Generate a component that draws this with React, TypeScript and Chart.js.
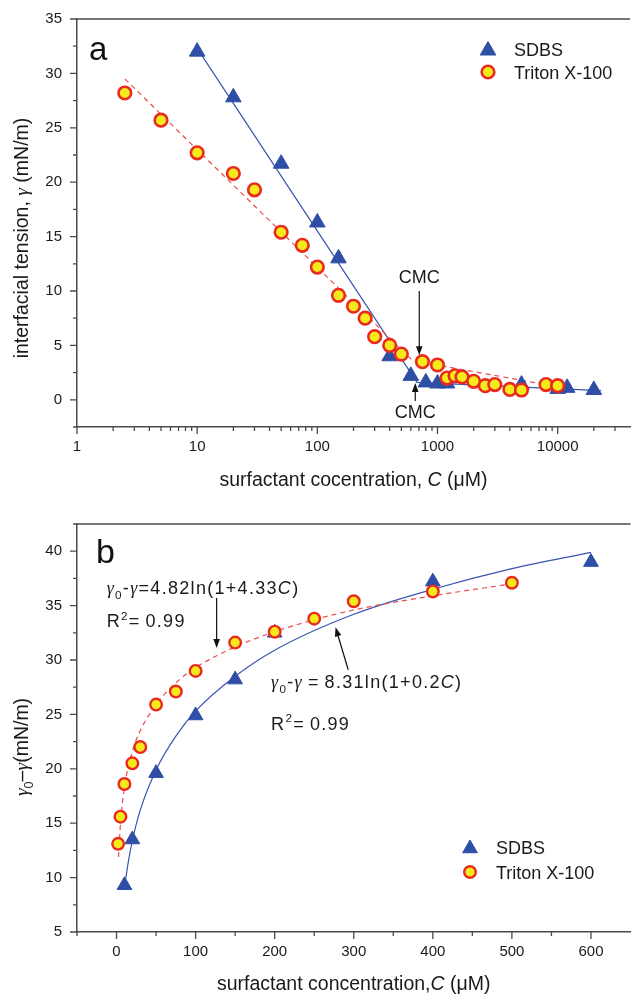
import { useEffect, useRef } from 'react';
import { Chart, registerables } from 'chart.js';
Chart.register(...registerables);

// ---------- Panel a: interfacial tension vs concentration (log x) ----------
const sdbsA_C = [10, 20, 50, 100, 150, 400, 600, 800, 1000, 1200, 5000, 10000, 12000, 20000];
const sdbsA_gamma = [32.0, 27.8, 21.7, 16.3, 13.0, 4.0, 2.2, 1.6, 1.5, 1.5, 1.4, 1.0, 1.1, 0.9];
const tritonA_C = [2.5, 5, 10, 20, 30, 50, 75, 100, 150, 200, 250, 300, 400, 500, 750, 1000, 1200, 1400, 1600, 2000, 2500, 3000, 4000, 5000, 8000, 10000];
const tritonA_gamma = [28.2, 25.7, 22.7, 20.8, 19.3, 15.4, 14.2, 12.2, 9.6, 8.6, 7.5, 5.8, 5.0, 4.2, 3.5, 3.2, 2.0, 2.2, 2.1, 1.7, 1.3, 1.4, 0.95, 0.9, 1.4, 1.3];
const sdbsA_fitC = [10, 675, 23000];
const sdbsA_fitGamma = [32.3, 1.6, 0.85];
const tritonA_fitC = [2.5, 620, 10000];
const tritonA_fitGamma = [29.5, 3.6, 1.2];
const xDecadesA = [1, 10, 100, 1000, 10000];
const xMultipliers = [1, 2, 3, 4, 5, 6, 7, 8, 9];
const xMaxA = 40000;

// ---------- Panel b: gamma0 - gamma vs concentration (linear) ----------
const sdbsB_C = [10, 20, 50, 100, 150, 200, 400, 600];
const sdbsB_dg = [9.3, 13.5, 19.6, 24.9, 28.2, 32.5, 37.2, 39.0];
const tritonB_C = [2, 5, 10, 20, 30, 50, 75, 100, 150, 200, 250, 300, 400, 500];
const tritonB_dg = [13.1, 15.6, 18.6, 20.5, 22.0, 25.9, 27.1, 29.0, 31.6, 32.6, 33.8, 35.4, 36.3, 37.1];
const sdbsB_fitC = [10, 15, 20, 30, 50, 75, 100, 150, 200, 300, 400, 500, 600];
const sdbsB_fitDg = [9.1, 11.5, 13.4, 16.2, 19.9, 23.0, 25.3, 28.5, 30.9, 34.2, 36.5, 38.4, 39.9];
const tritonB_fitC = [2.5, 5, 10, 20, 30, 50, 75, 100, 150, 200, 250, 300, 400, 500];
const tritonB_fitDg = [11.9, 15.0, 18.3, 21.6, 23.5, 25.9, 27.9, 29.3, 31.2, 32.6, 33.7, 34.6, 35.9, 37.0];

const SANS = '"Liberation Sans", Arial, sans-serif';
const SERIF = '"Liberation Serif", "Times New Roman", serif';
const AXIS = '#4a4a4a';
const TXT = '#1a1a1a';
const BLUE = '#2f4ea6';
const BLUE_LINE = '#3b55b0';
const YELLOW = '#f6e91c';
const RED = '#ea2a1f';
const RED_LINE = '#ec4b4b';

type Seg = { t: string; it?: boolean; serif?: boolean; sub?: boolean; sup?: boolean };

function segFont(s: Seg, size: number) {
  const sz = s.sub || s.sup ? size * 0.65 : size;
  return `${s.it ? 'italic ' : ''}${sz}px ${s.serif ? SERIF : SANS}`;
}

function drawRich(ctx: CanvasRenderingContext2D, segs: Seg[], x: number, y: number, size: number,
  align: 'left' | 'center', rotate = false, spacing = 0) {
  ctx.save();
  ctx.translate(x, y);
  if (rotate) ctx.rotate(-Math.PI / 2);
  ctx.textBaseline = 'alphabetic';
  ctx.textAlign = 'left';
  ctx.fillStyle = TXT;
  (ctx as any).letterSpacing = spacing + 'px';
  const widths = segs.map((s) => { ctx.font = segFont(s, size); return ctx.measureText(s.t).width; });
  const total = widths.reduce((a, b) => a + b, 0);
  let cx = align === 'center' ? -total / 2 : 0;
  segs.forEach((s, i) => {
    ctx.font = segFont(s, size);
    const dy = s.sub ? size * 0.28 : s.sup ? -size * 0.42 : 0;
    ctx.fillText(s.t, cx, dy);
    cx += widths[i];
  });
  ctx.restore();
}

function drawArrow(ctx: CanvasRenderingContext2D, x1: number, y1: number, x2: number, y2: number) {
  const a = Math.atan2(y2 - y1, x2 - x1);
  const L = 9, W = 3.3;
  const c = Math.cos(a), s = Math.sin(a);
  ctx.save();
  ctx.strokeStyle = '#111';
  ctx.fillStyle = '#111';
  ctx.lineWidth = 1.2;
  ctx.beginPath();
  ctx.moveTo(x1, y1);
  ctx.lineTo(x2 - L * 0.8 * c, y2 - L * 0.8 * s);
  ctx.stroke();
  ctx.beginPath();
  ctx.moveTo(x2, y2);
  ctx.lineTo(x2 - L * c + W * s, y2 - L * s - W * c);
  ctx.lineTo(x2 - L * c - W * s, y2 - L * s + W * c);
  ctx.closePath();
  ctx.fill();
  ctx.restore();
}

function drawMarker(ctx: CanvasRenderingContext2D, style: string, x: number, y: number, r: number,
  fill: string, stroke: string, bw: number) {
  ctx.save();
  ctx.beginPath();
  if (style === 'triangle') {
    for (let k = 0; k < 3; k++) {
      const ang = (k * 2 * Math.PI) / 3;
      const px = x + Math.sin(ang) * r, py = y - Math.cos(ang) * r;
      if (k === 0) ctx.moveTo(px, py); else ctx.lineTo(px, py);
    }
    ctx.closePath();
  } else {
    ctx.arc(x, y, r, 0, Math.PI * 2);
  }
  ctx.fillStyle = fill;
  ctx.fill();
  ctx.strokeStyle = stroke;
  ctx.lineWidth = bw;
  ctx.stroke();
  ctx.restore();
}

function drawAxisTicks(chart: any, isMajorX: (v: number) => boolean, isMajorY: (v: number) => boolean) {
  const { ctx, chartArea: ca, scales } = chart;
  ctx.save();
  ctx.strokeStyle = AXIS;
  ctx.lineWidth = 1.3;
  ctx.beginPath();
  scales.x.ticks.forEach((t: any) => {
    const p = scales.x.getPixelForValue(t.value);
    if (p < ca.left - 0.5 || p > ca.right - 1) return;
    const len = isMajorX(t.value) ? 7 : 4;
    ctx.moveTo(p, ca.bottom);
    ctx.lineTo(p, ca.bottom + len);
  });
  scales.y.ticks.forEach((t: any) => {
    const p = scales.y.getPixelForValue(t.value);
    const len = isMajorY(t.value) ? 7 : 4;
    ctx.moveTo(ca.left, p);
    ctx.lineTo(ca.left - len, p);
  });
  ctx.stroke();
  ctx.lineWidth = 1.5;
  ctx.beginPath();
  ctx.moveTo(ca.left, ca.top);
  ctx.lineTo(ca.right, ca.top);
  ctx.stroke();
  ctx.restore();
}

function drawLegend(ctx: CanvasRenderingContext2D, x: number, yTri: number, yCirc: number, textX: number, triR: number, circR: number, circBw: number) {
  drawMarker(ctx, 'triangle', x, yTri + 1.5, triR, BLUE, BLUE, 1);
  drawMarker(ctx, 'circle', x, yCirc, circR, YELLOW, RED, circBw);
  ctx.save();
  ctx.fillStyle = TXT;
  ctx.font = `18px ${SANS}`;
  ctx.textBaseline = 'alphabetic';
  ctx.textAlign = 'left';
  ctx.fillText('SDBS', textX, yTri + 6.5);
  ctx.fillText('Triton X-100', textX, yCirc + 6.5);
  ctx.restore();
}

const isMult = (v: number, m: number) => Math.abs(v / m - Math.round(v / m)) < 1e-6;

const xTicksA = xDecadesA.flatMap((d) => xMultipliers.map((m) => m * d)).filter((v) => v <= xMaxA);
const isMajorXA = (v: number) => xDecadesA.includes(v);
const isMajorYA = (v: number) => isMult(v, 5);
const isMajorXB = (v: number) => v >= 0 && isMult(v, 100);
const isMajorYB = (v: number) => isMult(v, 5);

const pts = (xs: number[], ys: number[]) => xs.map((x, i) => ({ x, y: ys[i] }));

const tickFont = { family: SANS, size: 15 };

const decorA = {
  id: 'decorA',
  afterDraw(chart: any) {
    const { ctx, chartArea: ca, scales } = chart;
    const X = (v: number) => scales.x.getPixelForValue(v);
    const Y = (v: number) => scales.y.getPixelForValue(v);
    drawAxisTicks(chart, isMajorXA, isMajorYA);
    ctx.save();
    ctx.fillStyle = '#111';
    ctx.font = `33px ${SANS}`;
    ctx.fillText('a', ca.left + 12, ca.top + 41);
    ctx.restore();
    drawRich(ctx, [{ t: 'surfactant cocentration, ' }, { t: 'C', it: true }, { t: ' (μM)' }], (ca.left + ca.right) / 2, 486, 19.5, 'center');
    drawRich(ctx, [{ t: 'interfacial tension, ' }, { t: 'γ', it: true, serif: true }, { t: ' (mN/m)' }], 28, 238, 19.5, 'center', true);
    ctx.save();
    ctx.fillStyle = TXT;
    ctx.font = `18px ${SANS}`;
    ctx.textAlign = 'center';
    ctx.fillText('CMC', X(705), Y(10.7));
    ctx.fillText('CMC', X(653), Y(-1.65));
    ctx.restore();
    drawArrow(ctx, X(705), Y(10.0), X(705), Y(4.1));
    drawArrow(ctx, X(653), Y(-0.1), X(653), Y(1.55));
    drawLegend(ctx, 488, 49, 72, 514, 9, 6.3, 2.6);
  },
};

const decorB = {
  id: 'decorB',
  afterDraw(chart: any) {
    const { ctx, chartArea: ca, scales } = chart;
    const X = (v: number) => scales.x.getPixelForValue(v);
    const Y = (v: number) => scales.y.getPixelForValue(v);
    drawAxisTicks(chart, isMajorXB, isMajorYB);
    ctx.save();
    ctx.fillStyle = '#111';
    ctx.font = `34px ${SANS}`;
    ctx.fillText('b', ca.left + 19, ca.top + 39);
    ctx.restore();
    drawRich(ctx, [{ t: 'surfactant concentration,' }, { t: 'C', it: true }, { t: ' (μM)' }], (ca.left + ca.right) / 2, 493, 19.5, 'center');
    drawRich(ctx, [{ t: 'γ', it: true, serif: true }, { t: '0', sub: true }, { t: '–' }, { t: 'γ', it: true, serif: true }, { t: '(mN/m)' }], 28, 250, 19.5, 'center', true);
    const f1: Seg[] = [{ t: 'γ', it: true, serif: true }, { t: '0', sub: true }, { t: '-' }, { t: 'γ', it: true, serif: true }, { t: '=4.82ln(1+4.33' }, { t: 'C', it: true }, { t: ')' }];
    const f2: Seg[] = [{ t: 'γ', it: true, serif: true }, { t: '0', sub: true }, { t: '-' }, { t: 'γ', it: true, serif: true }, { t: '\u2009=\u20098.31ln(1+0.2' }, { t: 'C', it: true }, { t: ')' }];
    const r2: Seg[] = [{ t: 'R' }, { t: '2', sup: true }, { t: '=\u20090.99' }];
    drawRich(ctx, f1, X(-12.5), Y(36.1), 18, 'left', false, 1.3);
    drawRich(ctx, r2, X(-12.5), Y(33.0), 18, 'left', false, 1.3);
    drawRich(ctx, f2, X(195.5), Y(27.4), 18, 'left', false, 1.3);
    drawRich(ctx, r2, X(195.5), Y(23.6), 18, 'left', false, 1.3);
    drawArrow(ctx, X(126.6), Y(35.7), X(126.6), Y(31.1));
    drawArrow(ctx, X(293), Y(29.1), X(277), Y(33.0));
    drawLegend(ctx, 470, 350, 375, 496, 8.5, 5.8, 2.4);
  },
};

// Tick marks are drawn by the plugin; Chart.js' own are transparent and only reserve label spacing.
function baseScale(extra: any, gap: number) {
  return {
    grid: { display: true, drawOnChartArea: false, drawTicks: true, tickLength: gap, tickColor: 'rgba(0,0,0,0)' },
    border: { display: true, color: AXIS, width: 1.5 },
    title: { display: false },
    ...extra,
  };
}

function configA(): any {
  return {
    type: 'scatter',
    data: {
      datasets: [
        { label: 'Triton X-100', data: pts(tritonA_C, tritonA_gamma), pointStyle: 'circle', pointRadius: 6.3, borderWidth: 2.6, backgroundColor: YELLOW, borderColor: RED, order: 0 },
        { label: 'SDBS', data: pts(sdbsA_C, sdbsA_gamma), pointStyle: 'triangle', pointRadius: 9, borderWidth: 1, backgroundColor: BLUE, borderColor: BLUE, order: 1 },
        { label: 'Triton fit', data: pts(tritonA_fitC, tritonA_fitGamma), showLine: true, pointRadius: 0, borderColor: RED_LINE, borderWidth: 1.2, borderDash: [5, 4], order: 2 },
        { label: 'SDBS fit', data: pts(sdbsA_fitC, sdbsA_fitGamma), showLine: true, pointRadius: 0, borderColor: BLUE_LINE, borderWidth: 1.2, order: 3 },
      ],
    },
    options: {
      animation: false,
      responsive: false,
      maintainAspectRatio: false,
      layout: { padding: { left: 0, top: 19, right: 4, bottom: 0 } },
      plugins: { legend: { display: false }, tooltip: { enabled: false } },
      scales: {
        x: baseScale({
          type: 'logarithmic', min: 1, max: xMaxA, position: 'bottom',
          ticks: { autoSkip: false, maxRotation: 0, minRotation: 0, padding: 0, font: tickFont, color: TXT,
            callback: (v: any) => (isMajorXA(Number(v)) ? String(v) : '') },
          afterBuildTicks: (s: any) => { s.ticks = xTicksA.map((v) => ({ value: v })); },
          afterFit: (s: any) => { s.height = 70; },
        }, 11),
        y: baseScale({
          type: 'linear', min: -2.5, max: 35, position: 'left',
          ticks: { stepSize: 2.5, autoSkip: false, padding: 0, font: tickFont, color: TXT,
            callback: (v: any) => (isMajorYA(Number(v)) ? String(Math.round(Number(v))) : '') },
          afterFit: (s: any) => { s.width = 77; },
        }, 15),
      },
    },
    plugins: [decorA],
  };
}

function configB(): any {
  return {
    type: 'scatter',
    data: {
      datasets: [
        { label: 'Triton X-100', data: pts(tritonB_C, tritonB_dg), pointStyle: 'circle', pointRadius: 5.8, borderWidth: 2.4, backgroundColor: YELLOW, borderColor: RED, order: 0 },
        { label: 'SDBS', data: pts(sdbsB_C, sdbsB_dg), pointStyle: 'triangle', pointRadius: 8.5, borderWidth: 1, backgroundColor: BLUE, borderColor: BLUE, order: 1 },
        { label: 'Triton fit', data: pts(tritonB_fitC, tritonB_fitDg), showLine: true, pointRadius: 0, borderColor: RED_LINE, borderWidth: 1.2, borderDash: [5, 4], cubicInterpolationMode: 'monotone', order: 2 },
        { label: 'SDBS fit', data: pts(sdbsB_fitC, sdbsB_fitDg), showLine: true, pointRadius: 0, borderColor: BLUE_LINE, borderWidth: 1.2, cubicInterpolationMode: 'monotone', order: 3 },
      ],
    },
    options: {
      animation: false,
      responsive: false,
      maintainAspectRatio: false,
      layout: { padding: { left: 0, top: 27, right: 4, bottom: 0 } },
      plugins: { legend: { display: false }, tooltip: { enabled: false } },
      scales: {
        x: baseScale({
          type: 'linear', min: -50, max: 650, position: 'bottom',
          ticks: { stepSize: 50, autoSkip: false, maxRotation: 0, minRotation: 0, padding: 0, font: tickFont, color: TXT,
            callback: (v: any) => (isMajorXB(Number(v)) ? String(Math.round(Number(v))) : '') },
          afterFit: (s: any) => { s.height = 62; },
        }, 11),
        y: baseScale({
          type: 'linear', min: 5, max: 42.5, position: 'left',
          ticks: { stepSize: 2.5, autoSkip: false, padding: 0, font: tickFont, color: TXT,
            callback: (v: any) => (isMajorYB(Number(v)) ? String(Math.round(Number(v))) : '') },
          afterFit: (s: any) => { s.width = 77; },
        }, 15),
      },
    },
    plugins: [decorB],
  };
}

export default function App() {
  const refA = useRef<HTMLCanvasElement>(null);
  const refB = useRef<HTMLCanvasElement>(null);
  useEffect(() => {
    const a = new Chart(refA.current as HTMLCanvasElement, configA());
    const b = new Chart(refB.current as HTMLCanvasElement, configB());
    return () => { a.destroy(); b.destroy(); };
  }, []);
  return (
    <div style={{ position: 'absolute', left: 0, top: 0, width: 633, height: 994, overflow: 'hidden', background: '#fff' }}>
      <canvas ref={refA} width={640} height={497} style={{ position: 'absolute', left: 0, top: 0, width: 640, height: 497 }} />
      <canvas ref={refB} width={640} height={497} style={{ position: 'absolute', left: 0, top: 497, width: 640, height: 497 }} />
    </div>
  );
}
